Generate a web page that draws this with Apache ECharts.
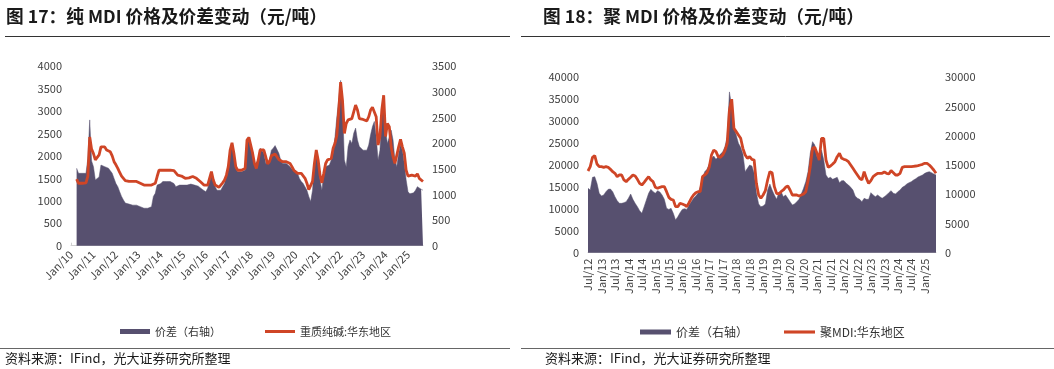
<!DOCTYPE html>
<html><head><meta charset="utf-8">
<script src="https://cdn.jsdelivr.net/npm/echarts@6/dist/echarts.min.js"></script>
<style>html,body{margin:0;padding:0;background:#fff}#c{width:1054px;height:369px}</style>
</head><body><div id="c"></div>
<script>
// ---------- DATA ----------
const monthNames = ['Jan','Feb','Mar','Apr','May','Jun','Jul','Aug','Sep','Oct','Nov','Dec'];
function monthCats(y0, mo0, n) {
  const out = [];
  for (let i = 0; i < n; i++) {
    const t = mo0 + i, y = y0 + Math.floor(t / 12), m = t % 12;
    out.push(monthNames[m] + '/' + String(y % 100).padStart(2, '0'));
  }
  return out;
}
// Chart 17: monthly, Jan/10 .. Sep/25
const catsA = monthCats(2010, 0, 189);
const sodaA = [
  null,null,null,1480,1390,1390,1390,1390,1400,1550,2420,2150,
  2050,1910,1910,2020,2200,2220,2200,2130,2130,2090,2000,1870,
  1800,1720,1630,1550,1500,1450,1430,1430,1430,1430,1430,1430,
  1400,1390,1370,1350,1350,1350,1350,1350,1350,1390,1540,1680,
  1680,1680,1680,1680,1680,1680,1680,1670,1630,1570,1570,1550,
  1540,1500,1500,1510,1540,1540,1520,1500,1460,1430,1390,1350,
  1310,1350,1500,1650,1460,1350,1330,1300,1310,1400,1460,1570,
  1760,2130,2290,2060,1760,1680,1680,1680,1680,1720,2350,2410,
  2370,2060,1830,1720,1910,2130,2130,2130,1980,1820,1870,2000,
  2020,2040,2000,1920,1890,1870,1870,1870,1870,1830,1760,1680,
  1650,1610,1610,1610,1600,1500,1390,1250,1240,1430,1830,2130,
  1910,1570,1400,1610,1830,1910,1910,1940,2170,2280,2460,3020,
  3640,3240,2500,2720,2800,2800,2830,2980,3130,3020,2830,2830,
  2810,2800,2780,2870,3020,3080,3090,2870,2240,2430,3020,3350,
  2430,2720,2650,2200,1980,1830,1800,2200,2370,2200,2060,1680,
  1550,1570,1570,1570,1550,1600,1500,1460,1430
];
const spreadA = [
  null,null,null,1510,1410,1410,1410,1410,1410,1700,2450,1650,
  1540,1280,1250,1340,1570,1570,1540,1510,1510,1460,1410,1310,
  1210,1150,1050,960,890,830,830,810,790,790,790,790,
  770,760,750,730,730,730,730,760,960,1020,1180,1180,
  1210,1250,1250,1250,1250,1250,1250,1210,1150,1180,1180,1180,
  1180,1180,1180,1200,1200,1200,1180,1180,1160,1140,1100,1080,
  1050,1120,1250,1360,1310,1150,1080,1050,1080,1150,1210,1360,
  1470,1800,1990,1730,1510,1440,1440,1440,1440,1470,2060,2120,
  2090,1730,1570,1540,1670,1900,1930,1800,1600,1570,1670,1860,
  1900,1950,1930,1800,1670,1600,1570,1600,1570,1540,1490,1460,
  1460,1410,1310,1250,1210,1180,1080,960,860,1080,1600,1860,
  1670,1280,1080,1410,1540,1540,1570,1670,1800,2120,2510,2840,
  3220,2770,1670,1540,1930,2060,1990,2190,2290,2060,1930,1900,
  1860,1830,1860,1960,2160,2320,2420,2120,1670,1860,2510,2770,
  2250,1990,2120,2250,2060,1670,1540,1800,1960,1860,1600,1280,
  1050,1010,990,1030,1080,1150,1160,1100,1080
];
// Chart 18: monthly, Jul/12 .. Jun/25
const catsB = monthCats(2012, 6, 156);
const mdiB = [
  18630,19620,21750,22130,20230,19620,
  19620,19470,19620,19470,19010,18480,18100,17340,17720,17720,16580,16200,
  16730,17190,17720,17490,16730,15820,15440,16050,16730,17340,16580,16200,
  14910,14680,14910,15060,15060,13920,12620,12170,12020,10500,10500,11260,
  11100,10880,10500,11410,12400,13160,13690,13920,13920,17340,17720,18250,
  19470,22280,23420,23040,21900,21750,22280,23270,24940,32550,35000,28370,
  27610,26850,26090,23800,22280,21520,21900,21290,21140,15820,13160,12400,
  13160,14150,16580,18480,18250,15060,13540,13390,13920,14300,14910,15210,
  14300,13160,13160,13160,12930,13160,13390,13920,16430,19620,23800,24030,
  22660,21140,26090,26090,21140,19470,19770,20230,20760,21900,22660,21520,
  21290,21140,20760,20000,19240,18480,17720,16960,16580,18480,16960,15820,
  16430,17340,17720,18100,18100,18100,18400,18100,17950,18710,18250,17720,
  17720,18100,19470,19620,19620,19620,19620,19700,19770,19850,20000,20150,
  20380,20380,20000,19470,18860,18100
];
const spreadB = [
  11010,10720,12890,13000,11860,10150,
  9700,9870,10440,10840,10890,10440,9580,8900,8440,8440,8560,8730,
  9300,10040,9130,8440,7870,7190,6730,7870,9010,10150,10840,10440,
  10150,10610,10380,9870,9130,7590,7410,7590,6730,5590,6160,6840,
  7410,7530,7410,8160,8730,9300,9700,10150,11290,12720,13860,14260,
  15170,16140,16540,15970,16430,16880,17220,18140,19850,27500,24980,21270,
  20130,18710,18020,16880,13860,14430,15000,14830,13570,10270,8330,7870,
  7980,8330,10720,11750,10720,9870,9130,10270,10440,9580,9870,9300,
  8730,8160,8330,8730,9130,10040,11010,12150,13860,17000,18990,18420,
  16430,16430,17570,15850,13290,12720,12890,12550,12720,12890,11980,12320,
  12320,11860,11580,11180,10720,9700,9300,9130,8730,9300,9130,9130,
  10270,9870,9580,9870,9580,9300,9580,9870,10270,10610,10150,10040,
  10440,10720,11180,11410,11750,11980,12150,12430,12660,12950,13120,13290,
  13570,13740,13860,13690,13460,13290
];
const nameSpread = '价差（右轴）';
const nameSoda = '重质纯碱:华东地区';
const nameMdi = '聚MDI:华东地区';
const titleA = '图 17：纯 MDI 价格及价差变动（元/吨）';
const titleB = '图 18：聚 MDI 价格及价差变动（元/吨）';
const sourceText = '资料来源：IFind，光大证券研究所整理';

// ---------- STYLE ----------
const FONT = '"Noto Sans CJK SC", "Noto Sans", sans-serif';
const AREA = '#57506f';
const RED = '#cf4526';
const LABEL = '#404040';
const LINE_ICON = 'path://M0 0H60V6H0Z';

function xAxis(grid, cats, step, rot, mg) {
  const every = (i) => i % step === 0;
  return {
    type: 'category', gridIndex: grid, data: cats, boundaryGap: false,
    axisLine: { lineStyle: { color: '#d0d0d0', width: 1 } },
    axisTick: { show: true, inside: true, length: 3, interval: every, lineStyle: { color: '#d0d0d0' } },
    axisLabel: { interval: every, rotate: rot, margin: mg, fontSize: 11, color: LABEL, fontFamily: FONT },
    splitLine: { show: false }
  };
}
function yAxis(grid, max, interval, pos) {
  return {
    type: 'value', gridIndex: grid, min: 0, max: max, interval: interval, position: pos,
    axisLine: { show: false }, axisTick: { show: false }, splitLine: { show: false },
    axisLabel: { fontSize: 11, color: LABEL, fontFamily: FONT, margin: 9, formatter: (v) => String(v) }
  };
}
function areaSeries(x, y, data) {
  return {
    name: nameSpread, type: 'line', xAxisIndex: x, yAxisIndex: y, data: data,
    symbol: 'none', color: AREA, lineStyle: { width: 0.5, color: AREA },
    areaStyle: { color: AREA, opacity: 1 }, z: 1
  };
}
function lineSeries(name, x, y, data) {
  return {
    name: name, type: 'line', xAxisIndex: x, yAxisIndex: y, data: data,
    symbol: 'none', color: RED, lineStyle: { width: 2.8, color: RED }, z: 3
  };
}

const chart = echarts.init(document.getElementById('c'), null, { renderer: 'canvas' });
chart.setOption({
  animation: false,
  backgroundColor: '#fff',
  textStyle: { fontFamily: FONT },
  grid: [
    { left: 71, top: 66, width: 352, height: 179.7 },
    { left: 588, top: 77.3, width: 348, height: 175.4 }
  ],
  xAxis: [xAxis(0, catsA, 12, 45, 7), xAxis(1, catsB, 6, 90, 6)],
  yAxis: [
    yAxis(0, 4000, 500, 'left'), yAxis(0, 3500, 500, 'right'),
    yAxis(1, 40000, 5000, 'left'), yAxis(1, 30000, 5000, 'right')
  ],
  legend: [
    {
      left: 115, top: 321, itemWidth: 30, itemHeight: 5, itemGap: 44, symbolKeepAspect: true,
      textStyle: { fontSize: 11, color: '#333', fontFamily: FONT },
      data: [{ name: nameSpread, icon: 'rect' }, { name: nameSoda, icon: LINE_ICON }]
    },
    {
      left: 635, top: 321, itemWidth: 31, itemHeight: 5, itemGap: 36, symbolKeepAspect: true,
      textStyle: { fontSize: 12, color: '#333', fontFamily: FONT },
      data: [{ name: nameSpread, icon: 'rect' }, { name: nameMdi, icon: LINE_ICON }]
    }
  ],
  series: [
    areaSeries(0, 1, spreadA), lineSeries(nameSoda, 0, 0, sodaA),
    areaSeries(1, 3, spreadB), lineSeries(nameMdi, 1, 2, mdiB)
  ],
  graphic: [
    { type: 'text', x: 6, y: 16, style: { text: titleA, font: 'bold 17.7px ' + FONT, fill: '#1a1a1a', verticalAlign: 'middle' } },
    { type: 'text', x: 543, y: 16, style: { text: titleB, font: 'bold 17.7px ' + FONT, fill: '#1a1a1a', verticalAlign: 'middle' } },
    { type: 'line', shape: { x1: 5, y1: 36.5, x2: 510, y2: 36.5 }, style: { stroke: '#333', lineWidth: 1 } },
    { type: 'line', shape: { x1: 521, y1: 36.5, x2: 1050, y2: 36.5 }, style: { stroke: '#333', lineWidth: 1 } },
    { type: 'line', shape: { x1: 0, y1: 348.5, x2: 510, y2: 348.5 }, style: { stroke: '#666', lineWidth: 1.2 } },
    { type: 'line', shape: { x1: 521, y1: 348.5, x2: 1054, y2: 348.5 }, style: { stroke: '#666', lineWidth: 1.2 } },
    { type: 'text', x: 5, y: 358, style: { text: sourceText, font: '13px ' + FONT, fill: '#1a1a1a', verticalAlign: 'middle' } },
    { type: 'text', x: 545, y: 358, style: { text: sourceText, font: '13px ' + FONT, fill: '#1a1a1a', verticalAlign: 'middle' } }
  ]
});
</script>
</body></html>
